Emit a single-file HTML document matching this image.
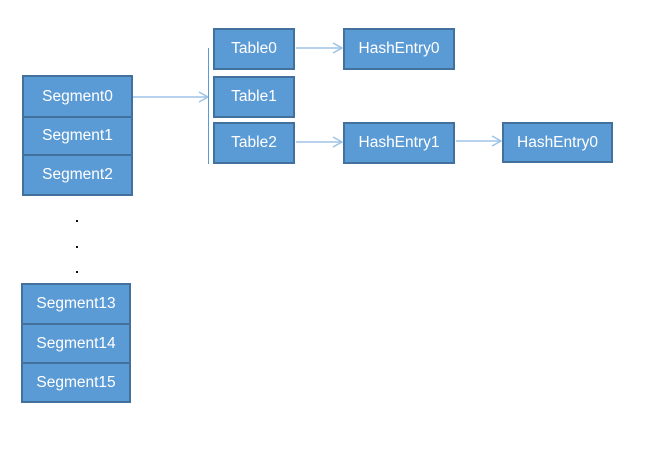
<!DOCTYPE html>
<html><head><style>
body{margin:0;width:659px;height:459px;background:#fff;position:relative;overflow:hidden;font-family:"Liberation Sans",sans-serif}
.b{position:absolute;box-sizing:border-box;background:#5b9bd5;border:2px solid #41719c;color:#fff;font-size:15.5px;display:flex;align-items:center;justify-content:center}
.d{position:absolute;width:2px;height:2px;background:#111}
</style></head><body>
<div class="b" style="left:22px;top:75px;width:111px;height:43px">Segment0</div>
<div class="b" style="left:22px;top:116px;width:111px;height:40px">Segment1</div>
<div class="b" style="left:22px;top:154px;width:111px;height:42px">Segment2</div>
<div class="d" style="left:76px;top:220px"></div>
<div class="d" style="left:76px;top:246px"></div>
<div class="d" style="left:76px;top:271px"></div>
<div class="b" style="left:21px;top:283px;width:110px;height:42px">Segment13</div>
<div class="b" style="left:21px;top:323px;width:110px;height:41px">Segment14</div>
<div class="b" style="left:21px;top:362px;width:110px;height:41px">Segment15</div>
<div class="b" style="left:213px;top:28px;width:82px;height:42px">Table0</div>
<div class="b" style="left:213px;top:76px;width:82px;height:42px">Table1</div>
<div class="b" style="left:213px;top:122px;width:82px;height:42px">Table2</div>
<div class="b" style="left:343px;top:28px;width:112px;height:42px">HashEntry0</div>
<div class="b" style="left:343px;top:122px;width:112px;height:42px">HashEntry1</div>
<div class="b" style="left:502px;top:122px;width:111px;height:41px">HashEntry0</div>
<svg width="659" height="459" style="position:absolute;left:0;top:0">
<g stroke="#9dc3e6" stroke-width="1.5" fill="none">
<line x1="133" y1="97" x2="208" y2="97"/><polyline points="199,92 208,97 199,102"/>
<line x1="296" y1="48" x2="342" y2="48"/><polyline points="333,43 342,48 333,53"/>
<line x1="296" y1="142" x2="342" y2="142"/><polyline points="333,137 342,142 333,147"/>
<line x1="456" y1="141" x2="501" y2="141"/><polyline points="492,136 501,141 492,146"/>
</g>
<line x1="208.5" y1="48" x2="208.5" y2="164" stroke="#5b9bd5" stroke-width="1"/>
</svg>
</body></html>
